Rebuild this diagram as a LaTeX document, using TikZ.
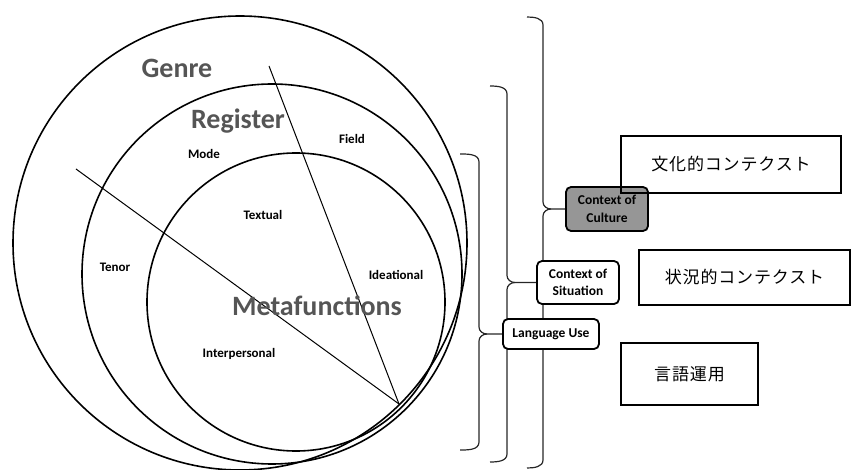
\documentclass[tikz,border=0pt]{standalone}
\usepackage{fontspec}
\newfontfamily\calib{Carlito}
\newfontfamily\jpfont[LetterSpace=5]{Noto Sans CJK JP}
\usetikzlibrary{positioning,backgrounds}
\definecolor{labgray}{RGB}{85,85,85}
\definecolor{boxgray}{RGB}{150,150,150}
\tikzset{
  ring/.style={line width=1.6pt},
  spoke/.style={line width=1pt},
  bigword/.style={font=\calib\bfseries\fontsize{28}{30}\selectfont, text=labgray, inner sep=0pt},
  smallword/.style={font=\calib\bfseries\fontsize{13}{15}\selectfont, inner sep=0pt},
  ctxbox/.style={draw, line width=1.8pt, rounded corners=5pt, fill=white, align=center,
    font=\calib\bfseries\fontsize{13.5}{17.5}\selectfont, inner sep=0pt},
  jpbox/.style={draw, line width=1.8pt, font=\jpfont\fontsize{17}{20}\selectfont, inner sep=0pt},
  bracket/.style={line width=1.2pt, draw=black!85},
}

\begin{document}
\begin{tikzpicture}[x=1pt, y=-1pt]
    \useasboundingbox (0,0) rectangle (852,470);
    % the three rings
    \draw [ring] (240,243) circle (227pt);
    \draw [ring] (272,274) circle (190pt);
    \draw [ring] (296,302) circle (149pt);
    \coordinate (tan) at (399,404);
    \coordinate (fieldend) at (269,66);
    \coordinate (tenorend) at (76,169);
    \draw [spoke] (fieldend) -- (tan);
    \draw [spoke] (tenorend) -- (tan);
    \node [bigword] (genre) at (177,68) {Genre};
    \node [bigword] (register) at (238,121) {Register};
    \node [bigword] (meta) at (317,306) {Metafunctions};
    \node [smallword] (mode) at (204,154) {Mode};
    \node [smallword] (field) at (352,139) {Field};
    \node [smallword] (textual) at (263,215) {Textual};
    \node [smallword] (tenor) at (115,267) {Tenor};
    \node [smallword] (ideational) at (396,275) {Ideational};
    \node [smallword] (interp) at (239,354) {Interpersonal};
    % boxes on the right
    \node [ctxbox, fill=boxgray, minimum width=82pt, minimum height=44pt] (culture) at (607,209) {Context of\\Culture};
    \node [ctxbox, minimum width=82pt, minimum height=43pt] (situation) at (578,282.5) {Context of\\Situation};
    \node [ctxbox, minimum width=96pt, minimum height=30pt] (languse) at (551,334) {Language Use};
    \node [jpbox, minimum width=220pt, minimum height=57pt] (jpculture) at (731,164.5) {文化的コンテクスト};
    \node [jpbox, minimum width=211pt, minimum height=55pt] (jpsituation) at (744.5,277.5) {状況的コンテクスト};
    \node [jpbox, minimum width=137pt, minimum height=62pt] (jplanguse) at (689.5,374) {言語運用};
    % braces, behind the boxes
    \begin{scope}[on background layer]
    \draw [bracket] (527,17) to[out=0,in=90] (543,25) -- (543,202) to[out=-90,in=180] (551,209) -- (culture.west);
    \draw [bracket] (527,468) to[out=0,in=-90] (543,460) -- (543,216) to[out=90,in=180] (551,209);
    \draw [bracket] (490,86) to[out=0,in=90] (507,94) -- (507,275.5) to[out=-90,in=180] (515,282.5) -- (situation.west);
    \draw [bracket] (490,462) to[out=0,in=-90] (507,454) -- (507,289.5) to[out=90,in=180] (515,282.5);
    \draw [bracket] (460,154) to[out=0,in=90] (479,162) -- (479,327) to[out=-90,in=180] (487,334) -- (languse.west);
    \draw [bracket] (460,450) to[out=0,in=-90] (479,442) -- (479,341) to[out=90,in=180] (487,334);
    \end{scope}
\end{tikzpicture}
\end{document}
